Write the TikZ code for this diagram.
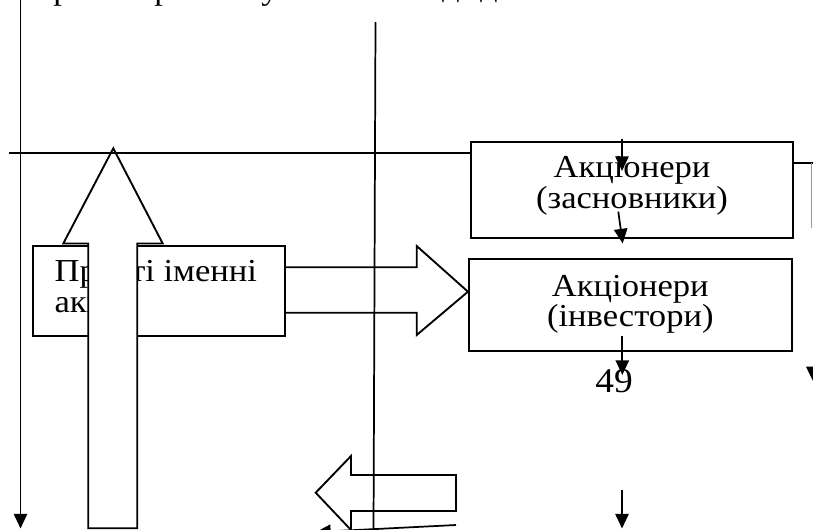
\documentclass[tikz,border=0pt]{standalone}
\usepackage{graphicx}
\usepackage{fontspec}
\setmainfont{Liberation Serif}
\usetikzlibrary{arrows.meta}
\newcommand{\sx}[1]{\scalebox{1.08}[1]{#1}}
\begin{document}
\begin{tikzpicture}[x=0.75pt,y=-0.75pt,
  box/.style={draw, line width=1.5pt, inner sep=0pt},
  txt/.style={inner sep=0pt, font=\fontsize{24}{28}\selectfont},
  ln/.style={line width=1.3pt},
  arr/.style={line width=1.3pt, -{Triangle[length=11pt,width=10pt]}},
  blk/.style={draw, line width=1.4pt, line join=miter}]
\useasboundingbox (0,0) rectangle (813,529);
% clipped top line of text (only descenders visible)
\node[txt, anchor=base] (t1) at (62,-1) {\sx{р}};
\node[txt, anchor=base] (t2) at (163,-1) {\sx{р}};
\node[txt, anchor=base] (t3) at (270,-1) {\sx{у}};
\node[txt, anchor=base] (t4) at (451,-4) {\sx{д}};
\node[txt, anchor=base] (t5) at (489,-4) {\sx{д}};
% coordinates
\coordinate (Ltop) at (20.5,0);
\coordinate (Lbot) at (20.5,528.5);
\coordinate (Mtop) at (375.5,22);
\coordinate (Mbot) at (373.5,530);
\coordinate (Hl) at (9,152.7);
% boxes
\node[box, minimum width=241.7pt, minimum height=71.9pt] (b1) at (631.9,189.6) {};
\node[box, minimum width=242pt, minimum height=69pt] (b2) at (630.3,305) {};
\node[box, minimum width=188.8pt, minimum height=67.5pt] (bp) at (159.2,291) {};
\node[txt, anchor=base] (b1a) at (632,177.3) {\sx{Акціонери}};
\node[txt, anchor=base] (b1b) at (632,208.3) {\sx{(засновники)}};
\node[txt, anchor=base] (b2a) at (630.3,296.7) {\sx{Акціонери}};
\node[txt, anchor=base] (b2b) at (630.3,326) {\sx{(інвестори)}};
\node[txt, anchor=base west] (bpa) at (54.3,281.7) {\sx{Прості іменні}};
\node[txt, anchor=base west] (bpb) at (54.3,312.7) {\sx{акції}};
% big upward block arrow
\draw[blk, fill=white] (88.3,528.3) -- (88.3,243.5) -- (63.3,243.5) -- (113.3,148.3)
  -- (162.7,243.5) -- (137.3,243.5) -- (137.3,528.3) -- cycle;
% lines
\draw[ln] (Hl) -- (b1.west |- Hl);
\draw[arr] (Ltop) -- (Lbot);
\draw[ln] (Mtop) -- (Mbot);
% right block arrow from bp to b2
\draw[blk] (bp.east |- 0,267.3) -- (416.7,267.3) -- (416.7,246) -- (b2.west |- 0,291.7)
  -- (416.7,335) -- (416.7,312.7) -- (bp.east |- 0,312.7);
% bottom left block arrow
\draw[blk] (456,475) -- (351,475) -- (351,456) -- (315.7,492.7) -- (351,530)
  -- (351,511) -- (456,511) -- cycle;
% small arrows
\coordinate (a1s) at (622,139);
\coordinate (a1e) at (622,171);
\coordinate (a2s) at (618.3,211.7);
\coordinate (a2e) at (622.7,243.5);
\coordinate (a3s) at (622.3,336);
\coordinate (a3e) at (622.3,375);
\coordinate (a4s) at (622,490);
\coordinate (a4e) at (622,528.5);
\draw[arr] (a1s) -- (a1e);
\draw[arr] (a2s) -- (a2e);
\draw[arr] (a3s) -- (a3e);
\draw[arr] (a4s) -- (a4e);
\coordinate (a5s) at (456,525);
\coordinate (a5e) at (316,532);
\draw[arr] (a5s) -- (a5e);
% page number
\node[inner sep=0pt, anchor=base, font=\fontsize{26}{30}\selectfont] (pn) at (614,392) {\sx{49}};
% right edge fragments
\coordinate (r1) at (813,163.3);
\coordinate (r2) at (811.5,163.3);
\coordinate (r3) at (811.5,228);
\draw[ln] (b1.east |- r1) -- (r1);
\draw[line width=1.4pt, black!40] (r2) -- (r3);
\fill (806,366.7) -- (813,366.7) -- (813,381) -- cycle;
\end{tikzpicture}
\end{document}
